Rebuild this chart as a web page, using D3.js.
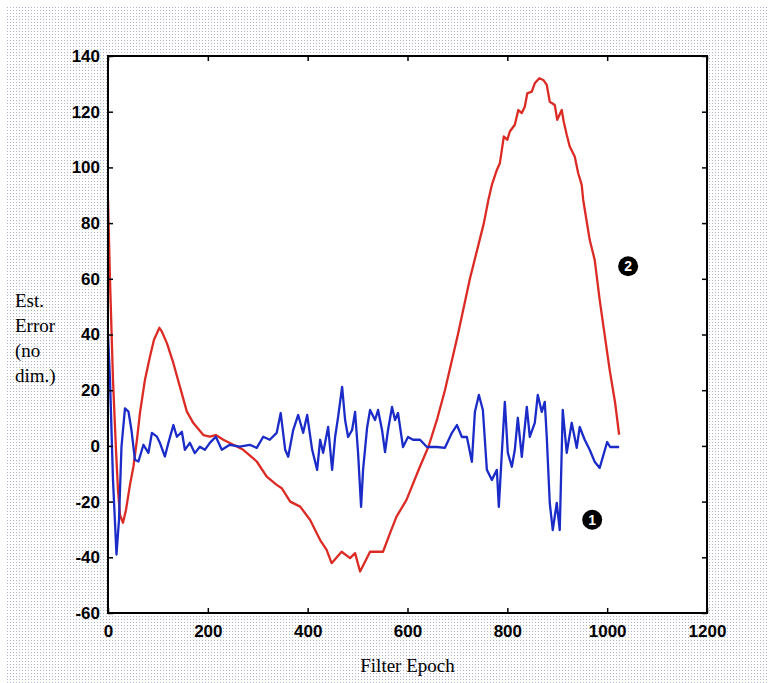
<!DOCTYPE html>
<html><head><meta charset="utf-8">
<script src="https://cdn.jsdelivr.net/npm/d3@7"></script>
<style>html,body{margin:0;padding:0;background:#fff}svg{display:block}</style>
</head><body>
<svg id="c" width="768" height="683"></svg>
<script>
// ---- data ----
const xTicks = [0,200,400,600,800,1000,1200];
const yTicks = [-60,-40,-20,0,20,40,60,80,100,120,140];
const xLabel = "Filter Epoch";
const yLabelLines = ["Est.","Error","(no","dim.)"];

// Series 1 (blue): filter epoch
const blueX = [0,4,10,17,22,27,34,41,47,54,61,71,81,88,98,104,114,121,131,138,148,154,164,174,184,194,204,216,228,244,264,284,298,311,324,338,346,355,361,371,381,391,399,409,419,425,431,441,449,455,461,469,475,481,489,495,501,507,511,519,525,535,541,549,555,561,569,575,581,591,601,611,625,639,659,675,689,699,709,719,729,735,743,751,759,769,779,783,789,795,801,809,815,821,829,839,845,855,861,869,875,879,885,891,899,905,911,919,929,939,945,955,965,975,985,1000,1006,1024];
const blueY = [40,23.7,-12.2,-39,-26.6,-0.3,13.5,12.3,5.7,-5,-5.6,0.4,-2.5,4.7,3.3,1.1,-3.8,1.1,7.5,3.3,5.1,-1.4,1.1,-2.6,-0.3,-1.4,1.1,3.3,-1.4,0.4,-0.3,0.4,-0.7,3.3,2.2,4.7,11.8,-1.4,-3.9,5.7,11.1,4.7,11.1,-1.4,-8.6,2.2,-2.5,6.8,-8.6,3.2,10.4,21.2,9.3,3.2,5.7,12.2,-2.5,-21.9,-8.6,6.5,12.9,9.3,12.9,5.7,-2.2,5.7,14,9.3,11.8,-0.4,3.2,2.2,2.2,-0.4,-0.4,-0.7,4.7,7.5,3.2,3.2,-5.7,12.2,18.3,12.9,-8.6,-12.2,-8.6,-21.9,-2.5,15.8,-2.5,-7.5,-1.4,10.1,-3.9,14,3.2,8.3,18.3,12.2,15.8,3.2,-20.5,-30.2,-20.5,-30.2,12.9,-2.5,8.3,-0.7,6.8,2.2,-1.4,-5.7,-7.9,1.4,-0.4,-0.4];

// Series 2 (red)
const redX = [0,4,10,16,20,24,30,36,44,51,58,64,74,84,92,103,108,118,131,144,158,171,191,204,216,231,251,271,298,318,338,348,365,385,405,425,438,448,468,485,495,505,525,551,565,578,598,625,642,660,675,701,725,753,762,769,779,785,789,793,800,805,815,822,829,835,840,849,855,864,872,879,882,885,895,900,909,913,919,925,935,942,949,952,965,975,985,1005,1016,1024];
const redY = [88.3,59.6,23.7,-1.4,-15.8,-24.8,-27.6,-23,-14,-7.4,2.2,11.8,23.7,32,38,42.4,41,36.9,29.7,21.3,12.3,8.2,3.9,3.3,3.9,2.2,0.4,-1.4,-5.6,-11,-14,-15.2,-20,-21.8,-26.6,-33.8,-37.3,-42.1,-38,-40.3,-38.5,-45.1,-38,-38,-31.3,-25.4,-19.4,-7.4,-0.3,10,20,40,60,80,88.3,93.7,99.1,101.5,106.3,111.1,109.9,112.9,115.3,120.6,119.5,121.8,126.6,127.2,130.2,132,131.4,129.6,126.6,123.6,122.4,117.1,120.6,116.4,111.7,107.5,103.9,97.9,93.7,88.3,74,66.8,52.4,27.3,15.4,4];

const markers = [{label:"1", x:970, y:-26.5},{label:"2", x:1042, y:64.5}];

// ---- drawing ----
const svg = d3.select("#c");
const W = 768, H = 683;
const m = {left:108, top:56, right:W-707, bottom:H-613};
const iw = W - m.left - m.right, ih = H - m.top - m.bottom;

const defs = svg.append("defs");
const pat = defs.append("pattern").attr("id","dots").attr("width",3).attr("height",3).attr("patternUnits","userSpaceOnUse");
pat.append("rect").attr("width",3).attr("height",3).attr("fill","#ffffff");
pat.append("rect").attr("x",1).attr("y",1).attr("width",1).attr("height",1).attr("fill","#b2b3cc");

svg.append("rect").attr("width",W).attr("height",H).attr("fill","#fff");
svg.append("rect").attr("x",7).attr("y",5).attr("width",W-7).attr("height",H-5).attr("fill","url(#dots)");

const x = d3.scaleLinear().domain([0,1200]).range([m.left, m.left+iw]);
const y = d3.scaleLinear().domain([-60,140]).range([m.top+ih, m.top]);

svg.append("rect").attr("x",m.left).attr("y",m.top).attr("width",iw).attr("height",ih).attr("fill","#fff");

const clip = defs.append("clipPath").attr("id","clip");
clip.append("rect").attr("x",m.left).attr("y",m.top).attr("width",iw).attr("height",ih);

const line = d3.line().x(d=>x(d[0])).y(d=>y(d[1]));
const g = svg.append("g").attr("clip-path","url(#clip)");
g.append("path").datum(redX.map((v,i)=>[v,redY[i]])).attr("d",line)
  .attr("fill","none").attr("stroke","#dc2b24").attr("stroke-width",2.3).attr("stroke-linejoin","round");
g.append("path").datum(blueX.map((v,i)=>[v,blueY[i]])).attr("d",line)
  .attr("fill","none").attr("stroke","#1a2bc8").attr("stroke-width",2.3).attr("stroke-linejoin","round");

// axes with inward ticks
const fontTick = "'Liberation Sans', Arial, sans-serif";
const axB = svg.append("g").attr("transform",`translate(0,${m.top+ih})`)
  .call(d3.axisBottom(x).tickValues(xTicks).tickSize(-5).tickPadding(12).tickFormat(d3.format("d")));
const axT = svg.append("g").attr("transform",`translate(0,${m.top})`)
  .call(d3.axisTop(x).tickValues(xTicks).tickSize(-5).tickFormat(""));
const axL = svg.append("g").attr("transform",`translate(${m.left},0)`)
  .call(d3.axisLeft(y).tickValues(yTicks).tickSize(-5).tickPadding(8).tickFormat(d=>d<0?"-"+Math.abs(d):d));
const axR = svg.append("g").attr("transform",`translate(${m.left+iw},0)`)
  .call(d3.axisRight(y).tickValues(yTicks).tickSize(-5).tickFormat(""));
[axB,axT,axL,axR].forEach(a=>{
  a.select(".domain").remove();
  a.selectAll(".tick line").attr("stroke","#000").attr("stroke-width",1.5);
  a.selectAll("text").attr("font-family",fontTick).attr("font-weight","bold").attr("font-size",17).attr("fill","#000");
});
axL.selectAll("text").attr("x",-8);

svg.append("rect").attr("x",m.left).attr("y",m.top).attr("width",iw).attr("height",ih)
  .attr("fill","none").attr("stroke","#000").attr("stroke-width",2);

// axis titles
const serif = "'Liberation Serif', 'Times New Roman', serif";
svg.append("text").attr("x",x(600)).attr("y",672).attr("text-anchor","middle")
  .attr("font-family",serif).attr("font-size",19).attr("fill","#000").text(xLabel);
const yl = svg.append("text").attr("font-family",serif).attr("font-size",19).attr("fill","#000");
yLabelLines.forEach((t,i)=>yl.append("tspan").attr("x",15).attr("y",307+i*25).text(t));

// numbered markers
const mk = svg.append("g").selectAll("g").data(markers).join("g")
  .attr("transform",d=>`translate(${x(d.x)},${y(d.y)})`);
mk.append("circle").attr("r",10).attr("fill","#000");
mk.append("text").attr("text-anchor","middle").attr("dy","0.36em")
  .attr("font-family",fontTick).attr("font-weight","bold").attr("font-size",14).attr("fill","#fff").text(d=>d.label);
</script>
</body></html>
